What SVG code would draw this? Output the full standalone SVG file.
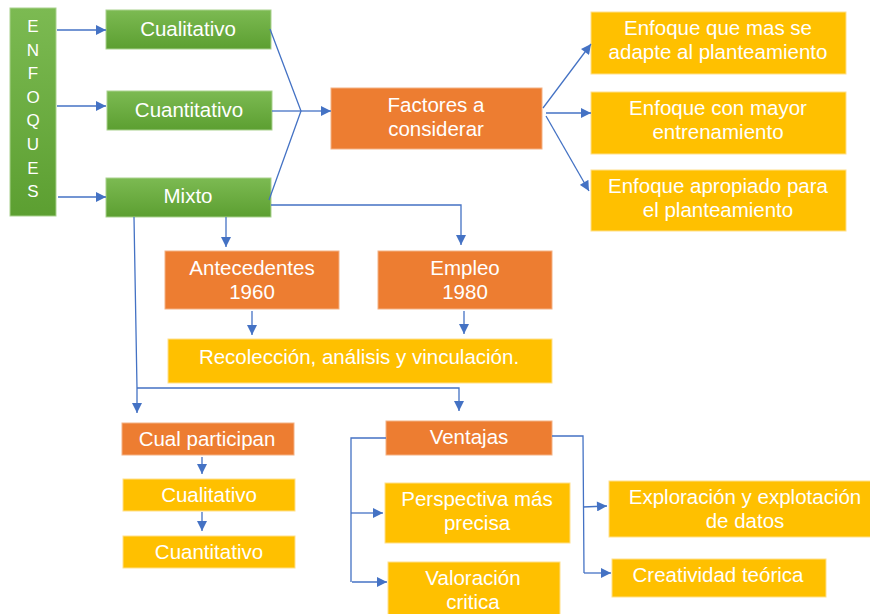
<svg xmlns="http://www.w3.org/2000/svg" width="870" height="614" viewBox="0 0 870 614">
<defs>
<linearGradient id="g" x1="0" y1="0" x2="0" y2="1">
<stop offset="0" stop-color="#7cba52"/>
<stop offset="1" stop-color="#5c9f31"/>
</linearGradient>
<marker id="a" viewBox="0 0 10 10" refX="10" refY="5" markerWidth="11" markerHeight="10" markerUnits="userSpaceOnUse" orient="auto">
<path d="M0,0 L10,5 L0,10 z" fill="#4472c4"/>
</marker>
<style>
.gr{fill:url(#g);stroke:#a9d18e;stroke-width:1}
.or{fill:#ed7d31;stroke:#f4b183;stroke-width:1}
.yl{fill:#ffc000;stroke:#ffe08a;stroke-width:1}
text{font-family:"Liberation Sans",Arial,sans-serif;font-size:20.5px;fill:#ffffff;text-anchor:middle}
.v{font-size:17px}
.c path,.c line,.c polyline{stroke:#4472c4;stroke-width:1.3;fill:none}
.ar{marker-end:url(#a)}
</style>
</defs>
<rect width="870" height="614" fill="#ffffff"/>

<g id="enfoques"><rect class="gr" x="10" y="8" width="46" height="208"/>
<text class="v" x="33" y="32">E</text><text class="v" x="33" y="55.6">N</text><text class="v" x="33" y="79.2">F</text><text class="v" x="33" y="102.8">O</text><text class="v" x="33" y="126.4">Q</text><text class="v" x="33" y="150">U</text><text class="v" x="33" y="173.6">E</text><text class="v" x="33" y="197.2">S</text></g>

<g id="cualitativo"><rect class="gr" x="106" y="10" width="165" height="39"/><text x="188" y="36">Cualitativo</text></g>
<g id="cuantitativo"><rect class="gr" x="107" y="91" width="165" height="39"/><text x="189" y="117">Cuantitativo</text></g>
<g id="mixto"><rect class="gr" x="106" y="178" width="165" height="39"/><text x="188" y="203">Mixto</text></g>

<g id="factores"><rect class="or" x="331" y="88" width="211" height="61"/><text x="436" y="112">Factores a</text><text x="436" y="136">considerar</text></g>

<g id="enf1"><rect class="yl" x="591" y="12" width="255" height="62"/><text x="718" y="35">Enfoque que mas se</text><text x="718" y="59">adapte al planteamiento</text></g>
<g id="enf2"><rect class="yl" x="591" y="92" width="255" height="62"/><text x="718" y="115">Enfoque con mayor</text><text x="718" y="139">entrenamiento</text></g>
<g id="enf3"><rect class="yl" x="591" y="170" width="255" height="61"/><text x="718" y="193">Enfoque apropiado para</text><text x="718" y="217">el planteamiento</text></g>

<g id="antecedentes"><rect class="or" x="165" y="251" width="174" height="58"/><text x="252" y="275">Antecedentes</text><text x="252" y="299">1960</text></g>
<g id="empleo"><rect class="or" x="378" y="251" width="174" height="58"/><text x="465" y="275">Empleo</text><text x="465" y="299">1980</text></g>
<g id="recoleccion"><rect class="yl" x="168" y="339" width="384" height="44"/><text x="359" y="364">Recolección, análisis y vinculación.</text></g>

<g id="cual-participan"><rect class="or" x="122" y="423" width="172" height="32"/><text x="207" y="446">Cual participan</text></g>
<g id="cualitativo2"><rect class="yl" x="123" y="479" width="172" height="32"/><text x="209" y="502">Cualitativo</text></g>
<g id="cuantitativo2"><rect class="yl" x="123" y="536" width="172" height="32"/><text x="209" y="559">Cuantitativo</text></g>

<g id="ventajas"><rect class="or" x="386" y="421" width="166" height="34"/><text x="469" y="444">Ventajas</text></g>
<g id="perspectiva"><rect class="yl" x="385" y="483" width="185" height="60"/><text x="477" y="506">Perspectiva más</text><text x="477" y="530">precisa</text></g>
<g id="valoracion"><rect class="yl" x="388" y="562" width="172" height="56"/><text x="473" y="585">Valoración</text><text x="473" y="609">critica</text></g>
<g id="exploracion"><rect class="yl" x="609" y="481" width="265" height="56"/><text x="745" y="504">Exploración y explotación</text><text x="745" y="528">de datos</text></g>
<g id="creatividad"><rect class="yl" x="612" y="559" width="214" height="38"/><text x="718" y="582">Creatividad teórica</text></g>

<g id="connectors" class="c">
<line class="ar" x1="57" y1="30" x2="106" y2="30"/>
<line class="ar" x1="57" y1="106" x2="106" y2="106"/>
<line class="ar" x1="58" y1="197" x2="106" y2="197"/>
<polyline points="270,29 301,111 269,200"/>
<line x1="272" y1="111" x2="301" y2="111"/>
<line class="ar" x1="301" y1="111" x2="331" y2="111"/>
<line class="ar" x1="543" y1="108" x2="591" y2="44"/>
<line class="ar" x1="546" y1="113" x2="591" y2="113"/>
<line class="ar" x1="546" y1="116" x2="589" y2="191"/>
<polyline class="ar" points="271,205 461,205 461,245"/>
<line class="ar" x1="226" y1="217" x2="226" y2="247"/>
<line class="ar" x1="252" y1="311" x2="252" y2="335"/>
<line class="ar" x1="464" y1="311" x2="464" y2="334"/>
<polyline class="ar" points="134,217 137,388 137,413"/>
<polyline class="ar" points="137,388 459,388 459,411"/>
<line class="ar" x1="202" y1="457" x2="202" y2="474"/>
<line class="ar" x1="202" y1="512" x2="202" y2="531"/>
<polyline points="386,438 351,438 351,582"/>
<line class="ar" x1="351" y1="513" x2="383" y2="513"/>
<line class="ar" x1="352" y1="582" x2="387" y2="582"/>
<polyline points="552,436 583,436 584,573"/>
<line class="ar" x1="583" y1="507" x2="607" y2="506"/>
<line class="ar" x1="584" y1="573" x2="611" y2="573"/>
</g>
</svg>
